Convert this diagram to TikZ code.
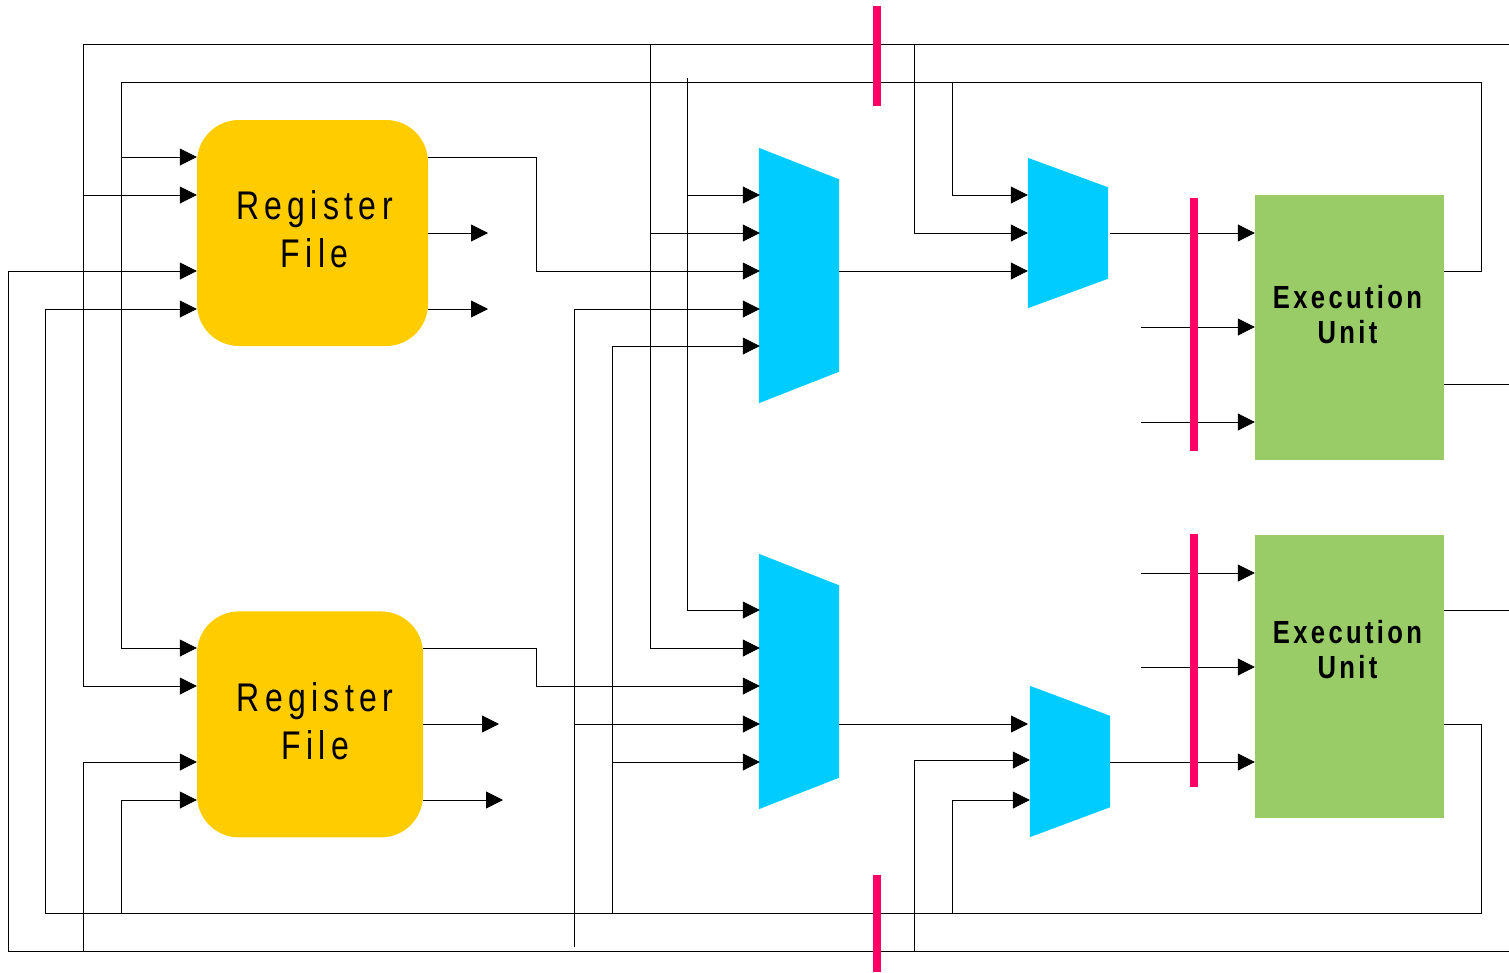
\documentclass[tikz,border=0pt]{standalone}
\usepackage{fontspec}
\newfontfamily\regfont[LetterSpace=13.4,FakeStretch=0.8]{Liberation Sans}
\newfontfamily\unitfont[LetterSpace=10.5,FakeStretch=0.8]{Liberation Sans}
\usetikzlibrary{arrows.meta, positioning, calc}
\definecolor{regyellow}{HTML}{FFCC00}
\definecolor{muxcyan}{HTML}{00CCFF}
\definecolor{unitgreen}{HTML}{99CC66}
\definecolor{latchpink}{HTML}{FF0066}
\tikzset{
    >=Latex,
    cpu_regfile/.style={
        rectangle,
        rounded corners=42pt,
        fill=regyellow,
        inner sep=0pt,
        minimum height=226pt
    },
    cpu_regtext/.style={
        font=\regfont\fontsize{40}{48}\selectfont,
        align=center,
        inner sep=0pt
    },
    cpu_mux/.style={
        rectangle,
        inner sep=0pt,
        minimum width=80pt
    },
    cpu_unit/.style={
        rectangle,
        fill=unitgreen,
        inner sep=0pt,
        minimum width=189pt
    },
    cpu_unittext/.style={
        font=\unitfont\bfseries\fontsize{32}{35}\selectfont,
        align=center,
        inner sep=0pt
    },
    cpu_latch/.style={
        rectangle,
        fill=latchpink,
        inner sep=0pt,
        minimum width=8pt
    },
    cpu_wire/.style={
        line width=0.8pt,
        draw=black
    },
    cpu_arrow/.style={
        cpu_wire,
        -{Triangle[length=17pt,width=17pt]}
    }
}
\newcommand{\muxbody}[2]{
    \fill[muxcyan] (#1.north west) -- ($(#1.north east)+(0,#2)$) -- ($(#1.south east)+(0,-#2)$) -- (#1.south west) -- cycle;
}

\begin{document}
\begin{tikzpicture}[x=1pt, y=-1pt]
\useasboundingbox (0,0) rectangle (1509,972);

% Register files
\node[cpu_regfile, minimum width=231pt] (rfA) at (312.5,233) {};
\node[cpu_regfile, minimum width=226pt, below right=265pt and 0pt of rfA.south west] (rfB) {};
\node[cpu_regtext, yshift=4pt] (rfAtext) at ($(rfA.center)+(2,0)$) {Register\\File};
\node[cpu_regtext, yshift=3pt] (rfBtext) at ($(rfB.center)+(5,0)$) {Register\\File};

% Multiplexers
\node[cpu_mux, minimum height=255pt] (muxA) at (799,275.5) {};
\node[cpu_mux, minimum height=255pt] (muxB) at (799,681.5) {};
\node[cpu_mux, minimum height=150pt] (muxC) at (1068,233) {};
\node[cpu_mux, minimum height=151pt] (muxD) at (1070,761.5) {};
\muxbody{muxA}{31.5}
\muxbody{muxB}{31.5}
\muxbody{muxC}{29.5}
\muxbody{muxD}{30}

% Execution units
\node[cpu_unit, minimum height=265pt] (euA) at (1349.5,327.5) {};
\node[cpu_unit, minimum height=283pt] (euB) at (1349.5,676.5) {};
\node[cpu_unittext, yshift=12.5pt] (euAtext) at ($(euA.center)+(-2,0)$) {Execution\\Unit};
\node[cpu_unittext, yshift=27pt] (euBtext) at ($(euB.center)+(-2,0)$) {Execution\\Unit};

% Pins
\foreach \y [count=\i] in {157,195,271,309} \coordinate (rfAin\i) at (rfA.west |- 0,\y);
\foreach \y [count=\i] in {648,686,762,800} \coordinate (rfBin\i) at (rfB.west |- 0,\y);
\foreach \y [count=\i] in {195,233,271,309,346} \coordinate (muxAin\i) at ($(muxA.west |- 0,\y)+(1,0)$);
\foreach \y [count=\i] in {610,648,686,724,762} \coordinate (muxBin\i) at ($(muxB.west |- 0,\y)+(1,0)$);
\foreach \y [count=\i] in {195,233,271} \coordinate (muxCin\i) at (muxC.west |- 0,\y);
\foreach \y [count=\i] in {760,800} \coordinate (muxDin\i) at (muxD.west |- 0,\y);
\foreach \y [count=\i] in {233,327,422} \coordinate (euAin\i) at (euA.west |- 0,\y);
\foreach \y [count=\i] in {573,667,762} \coordinate (euBin\i) at (euB.west |- 0,\y);
\coordinate (muxDin0) at (1028,724);
\coordinate (rfAoutA) at (rfA.east |- 0,157);
\coordinate (rfBoutA) at (rfB.east |- 0,648);
\coordinate (euAoutA) at (euA.east |- 0,271);
\coordinate (euBoutA) at (euB.east |- 0,724);

% Buses and free ends
\coordinate (busNa) at (83,44.1);
\coordinate (busNb) at (121,81.9);
\coordinate (busNbR) at (1481.5,81.9);
\coordinate (busNaEnd) at (1509,44.1);
\coordinate (busSa) at (8,951);
\coordinate (busSb) at (45.5,913);
\coordinate (busSbR) at (1481.5,913);
\coordinate (busSaEnd) at (1509,951);
\coordinate (colA) at (574.5,947);
\coordinate (colB) at (612.2,913);
\coordinate (colC) at (650,44.1);
\coordinate (colD) at (687.7,78);
\coordinate (colE) at (914.6,44.1);
\coordinate (colF) at (914.6,951);
\coordinate (colG) at (952.5,81.9);
\coordinate (colH) at (952.5,913);
\coordinate (jogA) at (536.6,271);
\coordinate (jogB) at (536.6,686);
\coordinate (stubA) at (488,233);
\coordinate (stubB) at (488,309);
\coordinate (stubC) at (499,724);
\coordinate (stubD) at (503,800);
\coordinate (feedA) at (1141,327);
\coordinate (feedB) at (1141,422);
\coordinate (feedC) at (1141,573);
\coordinate (feedD) at (1141,667);
\coordinate (muxCout) at (1110,233);
\coordinate (muxDout) at (muxD.east |- 0,762);
\coordinate (euAoutB) at (euA.east |- 0,384);
\coordinate (euBoutB) at (euB.east |- 0,610);
\coordinate (euAend) at (1509,384);
\coordinate (euBend) at (1509,610);

% Edges into the register files
\draw[cpu_arrow] (busNaEnd) -- (busNa) |- (rfBin2);
\draw[cpu_arrow] (busNa |- rfAin2) -- (rfAin2);
\draw[cpu_arrow] (euAoutA) -| (busNbR) -- (busNb) |- (rfBin1);
\draw[cpu_arrow] (busNb |- rfAin1) -- (rfAin1);
\draw[cpu_arrow] (busSaEnd) -- (busSa) |- (rfAin3);
\draw[cpu_arrow] (busNa |- busSa) |- (rfBin3);
\draw[cpu_arrow] (euBoutA) -| (busSbR) -- (busSb) |- (rfAin4);
\draw[cpu_arrow] (busNb |- busSb) |- (rfBin4);

% Edges out of the register files
\draw[cpu_arrow] (rfAoutA) -| (jogA) -- (muxAin3);
\draw[cpu_arrow] (rfBoutA) -| (jogB) -- (muxBin3);
\draw[cpu_arrow] (rfA.east |- stubA) -- (stubA);
\draw[cpu_arrow] (rfA.east |- stubB) -- (stubB);
\draw[cpu_arrow] (rfB.east |- stubC) -- (stubC);
\draw[cpu_arrow] (rfB.east |- stubD) -- (stubD);

% Edges into the large multiplexers
\draw[cpu_arrow] (colA) |- (muxAin4);
\draw[cpu_arrow] (colA |- muxBin4) -- (muxBin4);
\draw[cpu_arrow] (colB) |- (muxAin5);
\draw[cpu_arrow] (colB |- muxBin5) -- (muxBin5);
\draw[cpu_arrow] (colC) |- (muxBin2);
\draw[cpu_arrow] (colC |- muxAin2) -- (muxAin2);
\draw[cpu_arrow] (colD) |- (muxBin1);
\draw[cpu_arrow] (colD |- muxAin1) -- (muxAin1);

% Edges into the small multiplexers
\draw[cpu_arrow] (colG) |- (muxCin1);
\draw[cpu_arrow] (colE) |- (muxCin2);
\draw[cpu_arrow] (muxA.east |- muxCin3) -- (muxCin3);
\draw[cpu_arrow] (muxB.east |- muxDin0) -- (muxDin0);
\draw[cpu_arrow] (colF) |- (muxDin1);
\draw[cpu_arrow] (colH) |- (muxDin2);

% Edges into the execution units
\draw[cpu_arrow] (muxCout) -- (euAin1);
\draw[cpu_arrow] (feedA) -- (euAin2);
\draw[cpu_arrow] (feedB) -- (euAin3);
\draw[cpu_arrow] (feedC) -- (euBin1);
\draw[cpu_arrow] (feedD) -- (euBin2);
\draw[cpu_arrow] (muxDout) -- (euBin3);
\draw[cpu_wire] (euAoutB) -- (euAend);
\draw[cpu_wire] (euBoutB) -- (euBend);

% Latches
\node[cpu_latch, minimum height=100pt] (latchN) at (877,56) {};
\node[cpu_latch, minimum height=97pt] (latchS) at (877,923.5) {};
\node[cpu_latch, minimum height=253pt] (latchA) at (1194,324.5) {};
\node[cpu_latch, minimum height=253pt] (latchB) at (1194,660.5) {};

\end{tikzpicture}
\end{document}
